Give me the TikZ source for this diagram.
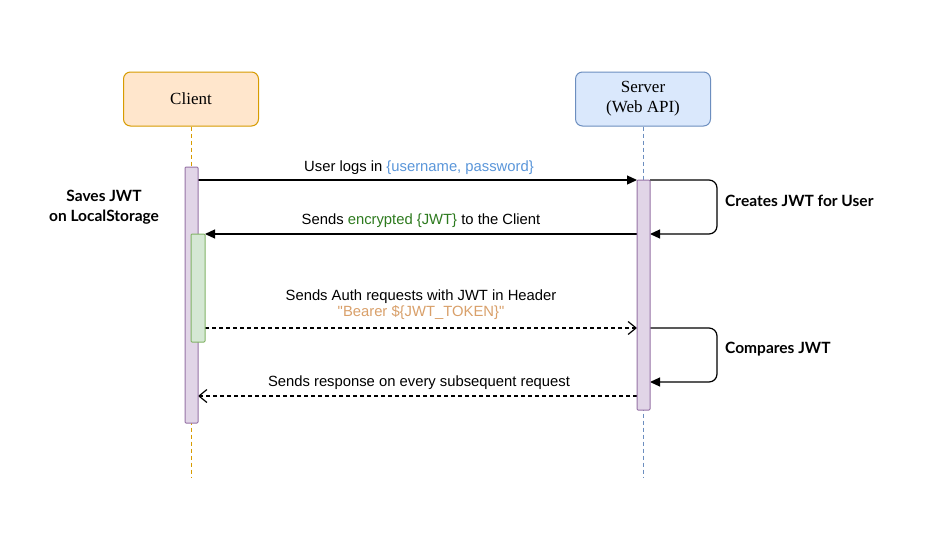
\documentclass[tikz,border=0pt]{standalone}
\usepackage{fontspec}
\setmainfont{Liberation Serif}
\newfontfamily\arialf{Liberation Sans}
\newfontfamily\handf{Lato}
\usetikzlibrary{arrows.meta}
\definecolor{cfill}{HTML}{FFE6CC}
\definecolor{cdraw}{HTML}{D79B00}
\definecolor{sfill}{HTML}{DAE8FC}
\definecolor{sdraw}{HTML}{6C8EBF}
\definecolor{pfill}{HTML}{E1D5E7}
\definecolor{pdraw}{HTML}{9673A6}
\definecolor{gfill}{HTML}{D5E8D4}
\definecolor{gdraw}{HTML}{82B366}
\definecolor{lblue}{HTML}{5A96DA}
\definecolor{lgreen}{HTML}{2D7A1E}
\definecolor{ltan}{HTML}{D9A06A}
\begin{document}
\begin{tikzpicture}[x=1pt,y=-1pt,
  actor/.style={draw, rounded corners=7pt, minimum width=135pt, minimum height=54pt, align=center, font=\fontsize{17}{20}\selectfont, line width=1pt},
  actbar/.style={draw=pdraw, fill=pfill, rounded corners=1pt, minimum width=13pt, inner sep=0pt, line width=1pt},
  gbar/.style={draw=gdraw, fill=gfill, rounded corners=1pt, minimum width=14pt, inner sep=0pt, line width=1pt},
  msg/.style={line width=1.2pt, -{Triangle[length=10pt,width=9pt]}},
  rmsg/.style={line width=1.2pt, dashed, dash pattern=on 4pt off 3pt, -{Straight Barb[length=8pt,width=13pt]}},
  lbl/.style={font=\arialf\fontsize{14.8}{17}\selectfont, inner sep=0pt, align=center},
  hand/.style={font=\handf\bfseries\fontsize{15.5}{20}\selectfont, inner sep=0pt, align=center},
  life/.style={dashed, dash pattern=on 4pt off 3pt, line width=0.9pt}]
\useasboundingbox (0,0) rectangle (928,533);
\fill[white] (0,0) rectangle (928,533);
% actors
\node[actor, draw=cdraw, fill=cfill] (client) at (191,99) {Client};
\node[actor, draw=sdraw, fill=sfill] (server) at (643,99) {Server\\(Web API)};
\coordinate (cend) at (191,477);
\coordinate (send) at (643,477);
\draw[life, draw=cdraw] (client.south) -- (cend);
\draw[life, draw=sdraw] (server.south) -- (send);
% message endpoints
\coordinate (m1a) at (198,180);
\coordinate (m1b) at (637,180);
\coordinate (l1a) at (650,180);
\coordinate (l1b) at (650,234);
\coordinate (m2a) at (637,234);
\coordinate (m2b) at (205,234);
\coordinate (m3a) at (205,328);
\coordinate (m3b) at (637,328);
\coordinate (l2a) at (650,328);
\coordinate (l2b) at (650,382);
\coordinate (m4a) at (637,396);
\coordinate (m4b) at (198,396);
% messages
\draw[msg] (m1a) -- (m1b);
\node[lbl] (t1) at (419,168) {User logs in \textcolor{lblue}{\{username, password\}}};
\draw[msg, rounded corners=8pt] (l1a) -- (717,180) -- (717,234) -- (l1b);
\node[hand, anchor=west] (t1s) at (725,201) {Creates JWT for User};
\draw[msg] (m2a) -- (m2b);
\node[lbl] (t2) at (421,221) {Sends \textcolor{lgreen}{encrypted \{JWT\}} to the Client};
\draw[rmsg] (m3a) -- (m3b);
\node[lbl] (t3) at (421,297) {Sends Auth requests with JWT in Header};
\node[lbl, text=ltan] (t3b) at (421,313) {"Bearer \$\{JWT\_TOKEN\}"};
\draw[msg, rounded corners=8pt] (l2a) -- (717,328) -- (717,382) -- (l2b);
\node[hand, anchor=west] (t2s) at (725,349) {Compares JWT};
\draw[rmsg] (m4a) -- (m4b);
\node[lbl] (t4) at (419,383) {Sends response on every subsequent request};
\node[hand] (save) at (104,207) {Saves JWT\\on LocalStorage};
% activations (drawn over the lines)
\node[actbar, minimum height=256pt] (cact) at (191.5,295) {};
\node[gbar, minimum height=108pt] (gact) at (198,288) {};
\node[actbar, minimum height=230pt] (sact) at (643.5,295) {};
\end{tikzpicture}
\end{document}
